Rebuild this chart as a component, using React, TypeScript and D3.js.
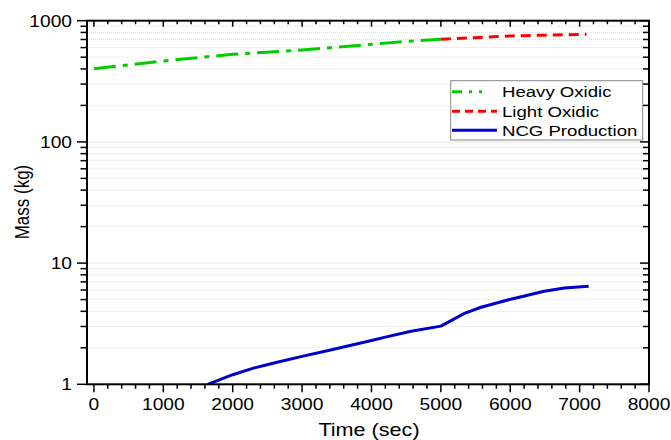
import React from "react";
import * as d3 from "d3";

const heavyTime = [0, 1000, 2000, 3000, 3410, 4000, 4500, 5000];
const heavyMass = [402, 465, 528, 573, 599, 638, 676, 702];
const lightTime = [5000, 5500, 6000, 6500, 7100];
const lightMass = [702, 724, 748, 760, 772];
const ncgTime = [1640, 2000, 2300, 2640, 3000, 3410, 4000, 4200, 4570, 5000, 5340, 5580, 6010, 6490, 6780, 7130];
const ncgMass = [1.0, 1.2, 1.36, 1.52, 1.7, 1.92, 2.3, 2.45, 2.74, 3.02, 3.85, 4.32, 5.04, 5.85, 6.22, 6.45];
const xTicks = [0, 1000, 2000, 3000, 4000, 5000, 6000, 7000, 8000];
const yTicks = [1, 10, 100, 1000];
const legendNames = ["Heavy Oxidic", "Light Oxidic", "NCG Production"];

const W = 671, H = 440;
const L = 87, R = 649, T = 20.7, B = 384.3;
const SX = 1.2;
const FONT = "Liberation Sans, Arial, sans-serif";

export default function App() {
  const x = d3.scaleLinear().domain([-100, 8000]).range([L, R]);
  const y = d3.scaleLog().domain([1, 1000]).range([B, T]);
  const line = d3.line<[number, number]>().x(d => x(d[0])).y(d => y(d[1]));
  const zip = (a: number[], b: number[]) => a.map((t, i) => [t, b[i]] as [number, number]);

  const minorY: number[] = [];
  [1, 10, 100].forEach(d => { for (let k = 2; k <= 9; k++) minorY.push(d * k); });
  const minorX: number[] = [];
  for (let t = 0; t <= 8000; t += 200) if (t % 1000 !== 0) minorX.push(t);

  const series = [
    { color: "#00cc00", dash: "22,7,5,7", d: line(zip(heavyTime, heavyMass)) },
    { color: "#ff0000", dash: "10,6", d: line(zip(lightTime, lightMass)) },
    { color: "#0000cc", dash: "none", d: line(zip(ncgTime, ncgMass)) },
  ];

  const legX = 450.7, legY = 80.7, legW = 192, legH = 59.3;
  const rowY = [91.7, 111.2, 130.2];

  return (
    <svg width={W} height={H} style={{ position: "absolute", left: 0, top: 0, background: "#fff" }}>
      <defs>
        <clipPath id="plot"><rect x={L} y={T} width={R - L} height={B - T} /></clipPath>
      </defs>
      {minorY.map(v => (
        <line key={"gm" + v} x1={L} x2={R} y1={y(v)} y2={y(v)} stroke="#e0e0e0" strokeWidth={1} strokeDasharray="1,1" />
      ))}
      {[10, 100].map(v => (
        <line key={"gM" + v} x1={L} x2={R} y1={y(v)} y2={y(v)} stroke="#ececec" strokeWidth={1.5} />
      ))}
      <g clipPath="url(#plot)">
        {series.map((s, i) => (
          <path key={i} d={s.d || ""} fill="none" stroke={s.color} strokeWidth={3} strokeDasharray={s.dash} strokeLinejoin="round" />
        ))}
      </g>
      <rect x={L} y={T} width={R - L} height={B - T} fill="none" stroke="#000" strokeWidth={2} />
      {xTicks.map(t => (
        <g key={"xt" + t}>
          <line x1={x(t)} x2={x(t)} y1={B} y2={B + 8} stroke="#000" strokeWidth={1.5} />
          <line x1={x(t)} x2={x(t)} y1={T} y2={T + 6} stroke="#000" strokeWidth={1.5} />
          <text transform={`translate(${x(t)},${409.5}) scale(${SX},1)`} textAnchor="middle" fontFamily={FONT} fontSize={16} fill="#000">{t}</text>
        </g>
      ))}
      {minorX.map(t => (
        <g key={"xm" + t}>
          <line x1={x(t)} x2={x(t)} y1={B} y2={B + 4.5} stroke="#000" strokeWidth={1.5} />
          <line x1={x(t)} x2={x(t)} y1={T} y2={T + 3.5} stroke="#000" strokeWidth={1.5} />
        </g>
      ))}
      {yTicks.map(v => (
        <g key={"yt" + v}>
          <line x1={L - 10} x2={L} y1={y(v)} y2={y(v)} stroke="#000" strokeWidth={1.5} />
          <line x1={R - 9} x2={R} y1={y(v)} y2={y(v)} stroke="#000" strokeWidth={1.5} />
          <text transform={`translate(${72},${y(v) + 5.8}) scale(${SX},1)`} textAnchor="end" fontFamily={FONT} fontSize={16} fill="#000">{v}</text>
        </g>
      ))}
      {minorY.map(v => (
        <g key={"ym" + v}>
          <line x1={L - 6.5} x2={L} y1={y(v)} y2={y(v)} stroke="#000" strokeWidth={1.5} />
          <line x1={R - 6} x2={R} y1={y(v)} y2={y(v)} stroke="#000" strokeWidth={1.5} />
        </g>
      ))}
      <text transform={`translate(${369},${435.5}) scale(${SX},1)`} textAnchor="middle" fontFamily={FONT} fontSize={18} fill="#000">Time (sec)</text>
      <text transform={`translate(${28.5},${202}) scale(${SX},1) rotate(-90)`} textAnchor="middle" fontFamily={FONT} fontSize={17} fill="#000">Mass (kg)</text>
      <rect x={legX} y={legY} width={legW} height={legH} fill="#fff" stroke="#888" strokeWidth={1} />
      {legendNames.map((n, i) => (
        <g key={n}>
          <line x1={452} x2={497} y1={rowY[i]} y2={rowY[i]} stroke={series[i].color} strokeWidth={3} strokeDasharray={series[i].dash === "none" ? "none" : (i === 0 ? "10,7,3,7,3,20" : "8,5")} />
          <text transform={`translate(${502},${rowY[i] + 5.5}) scale(${SX},1)`} fontFamily={FONT} fontSize={15.5} fill="#000">{n}</text>
        </g>
      ))}
    </svg>
  );
}
